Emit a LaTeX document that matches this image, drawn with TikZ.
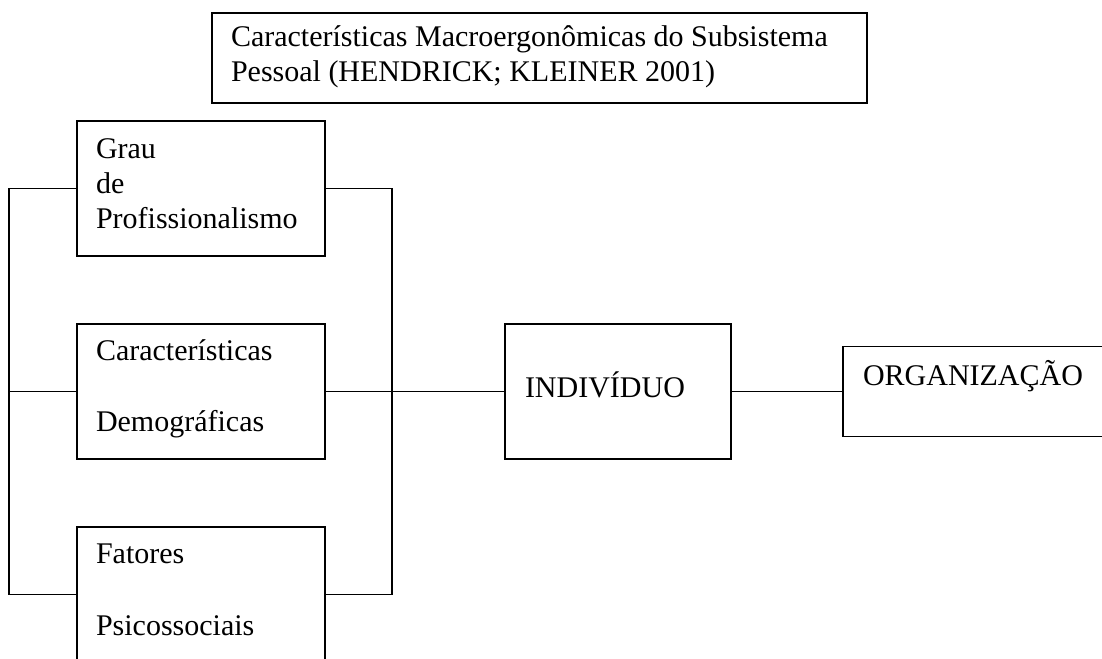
\documentclass[tikz,border=0pt]{standalone}
\usepackage{fontspec}
\setmainfont{Liberation Serif}
\begin{document}
\begin{tikzpicture}[x=1pt,y=-1pt,
  boxstyle/.style={draw, line width=1.5pt, inner sep=0pt, outer sep=0pt},
  lbl/.style={anchor=base west, inner sep=0pt, outer sep=0pt, font=\fontsize{30}{35}\selectfont},
  conn/.style={line width=1.5pt}]
\useasboundingbox (0,0) rectangle (1102,658);
\clip (0,0) rectangle (1102,658);
% boxes
\node[boxstyle, minimum width=655pt, minimum height=90pt] (title) at (539.5,58) {};
\node[boxstyle, minimum width=248pt, minimum height=135pt] (b1) at (201,188.5) {};
\node[boxstyle, minimum width=248pt, minimum height=135pt] (b2) at (201,391.5) {};
\node[boxstyle, minimum width=248pt, minimum height=135pt] (b3) at (201,594.5) {};
\node[boxstyle, minimum width=226pt, minimum height=135pt] (ind) at (618,391.5) {};
\node[boxstyle, minimum width=261pt, minimum height=90pt] (org) at (973.5,391.5) {};
% texts
\node[lbl] (t1) at (231,47) {Características Macroergonômicas do Subsistema};
\node[lbl] (t2) at (231,82) {Pessoal (HENDRICK; KLEINER 2001)};
\node[lbl] (g1) at (96,158) {Grau};
\node[lbl] (g2) at (96,193) {de};
\node[lbl] (g3) at (96,228) {Profissionalismo};
\node[lbl] (c1) at (96,360) {Características};
\node[lbl] (c2) at (96,431) {Demográficas};
\node[lbl] (f1) at (96,563) {Fatores};
\node[lbl] (f2) at (96,635) {Psicossociais};
\node[lbl] (it) at (525,397) {INDIVÍDUO};
\node[lbl] (ot) at (863,385) {ORGANIZAÇÃO};
% connectors
\draw[conn] (b1.west) -- ++(-68,0) coordinate (lt) |- (b3.west);
\draw[conn] (b2.west) -- (b2.west -| lt);
\draw[conn] (b1.east) -- ++(67,0) coordinate (rt) |- (b3.east);
\draw[conn] (b2.east) -- (ind.west);
\draw[conn] (ind.east) -- (org.west);
\end{tikzpicture}
\end{document}
